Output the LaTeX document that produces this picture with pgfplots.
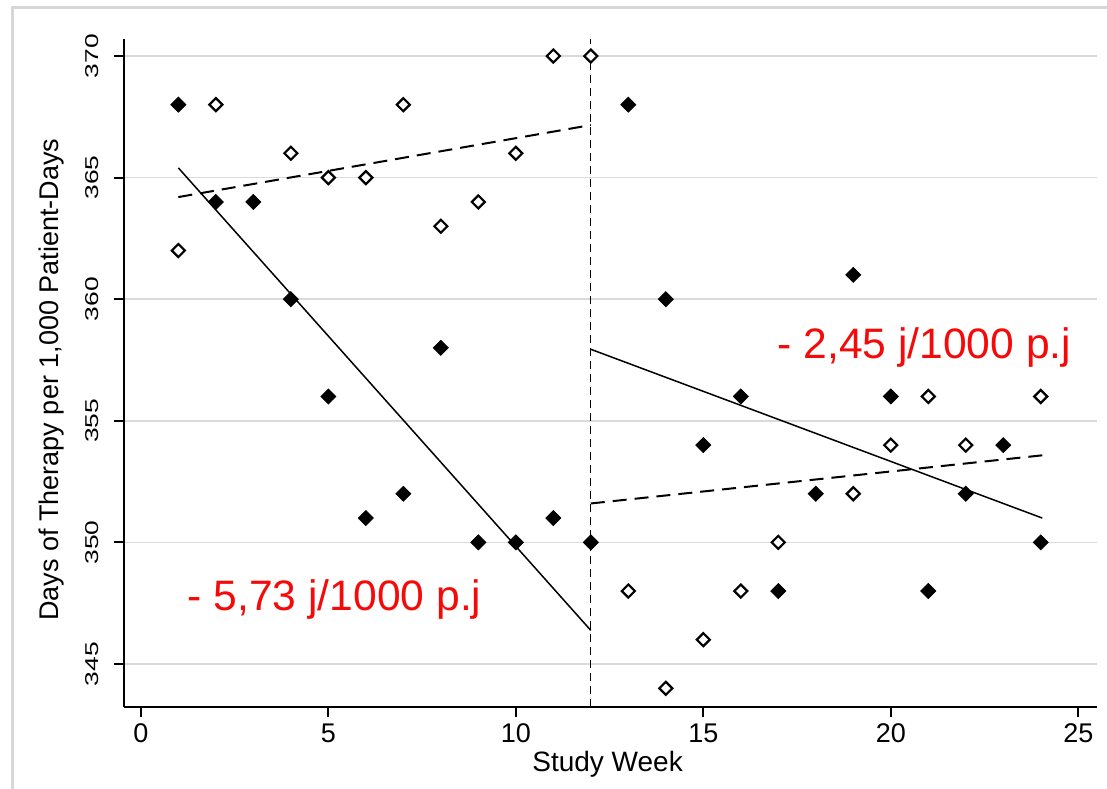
\documentclass[border=0pt]{standalone}
\usepackage{fontspec}
\setmainfont{Liberation Sans}
\newfontfamily\tickfont[FakeStretch=1.42]{Liberation Sans}
\usepackage{pgfplots}
\usepackage{pgfplotstable}
\pgfplotsset{compat=1.18}

\pgfplotstableread{
x y
1 368
2 364
3 364
4 360
5 356
6 351
7 352
8 358
9 350
10 350
11 351
12 350
13 368
14 360
15 354
16 356
17 348
18 352
19 361
20 356
21 348
22 352
23 354
24 350
}\filledpts

\pgfplotstableread{
x y
1 362
2 368
4 366
5 365
6 365
7 368
8 363
9 364
10 366
11 370
12 370
13 348
14 344
15 346
16 348
17 350
19 352
20 354
21 356
22 354
24 356
}\openpts

\definecolor{gridgray}{RGB}{218,218,218}
\definecolor{framegray}{RGB}{215,215,215}
\definecolor{annred}{RGB}{245,10,10}

\begin{document}
\begin{tikzpicture}
\useasboundingbox (-62pt,-40.5pt) rectangle (491.5pt,353.5pt);
\draw[framegray, line width=1.5pt] (-55.5pt,-45pt) -- (-55.5pt,349.5pt) -- (500pt,349.5pt);
\begin{axis}[
  at={(0,0)}, anchor=south west,
  scale only axis, width=486.5pt, height=334pt,
  xmin=-0.45, xmax=25.5, ymin=343.23, ymax=370.7,
  axis x line*=bottom, axis y line*=left,
  axis line style={line width=1pt, black},
  xtick={0,5,10,15,20,25}, ytick={345,350,355,360,365,370},
  tick align=outside, major tick length=5pt,
  tick style={line width=1pt, black},
  ymajorgrids, grid style={line width=0.8pt, gridgray},
  /pgf/number format/assume math mode=true,
  x tick label style={font=\fontsize{13.5}{16}\selectfont, anchor=north},
  y tick label style={font=\tickfont\fontsize{9.3}{11}\selectfont, rotate=90, anchor=south},
  yticklabel shift=4pt,
  xlabel={Study Week},
  ylabel={Days of Therapy per 1,000 Patient-Days},
  xlabel style={font=\fontsize{14}{16}\selectfont, at={(axis description cs:0.497,-0.085)}, anchor=center},
  ylabel style={font=\fontsize{13.5}{16}\selectfont, at={(axis description cs:-0.074,0.49)}, anchor=center},
  clip=false,
]
% vertical intervention line
\addplot[black, line width=0.6pt, dash pattern=on 4pt off 2.5pt] coordinates {(12,343.23) (12,370.7)};
% fitted lines
\addplot[black, line width=0.75pt] coordinates {(1,365.4) (12,346.38)};
\addplot[black, line width=1pt, dash pattern=on 7pt off 4pt] coordinates {(1,364.2) (12,367.16)};
\addplot[black, line width=0.75pt] coordinates {(12,357.94) (24.04,351.0)};
\addplot[black, line width=1pt, dash pattern=on 7pt off 4pt] coordinates {(12,351.6) (24.04,353.58)};
% points
\addplot[only marks, mark=square*, mark size=2.65pt, mark options={rotate=45, fill=black, draw=black}] table {\filledpts};
\addplot[only marks, mark=square*, mark size=2.3pt, mark options={rotate=45, fill=white, draw=black, line width=1.1pt}] table {\openpts};
% annotations
\node[annred, anchor=base west, inner sep=0pt, font=\fontsize{21.3}{24}\selectfont] at (axis cs:1.24,347.2) {- 5,73 j/1000 p.j};
\node[annred, anchor=base west, inner sep=0pt, font=\fontsize{21.3}{24}\selectfont] at (axis cs:16.97,357.57) {- 2,45 j/1000 p.j};
\end{axis}
\end{tikzpicture}
\end{document}
